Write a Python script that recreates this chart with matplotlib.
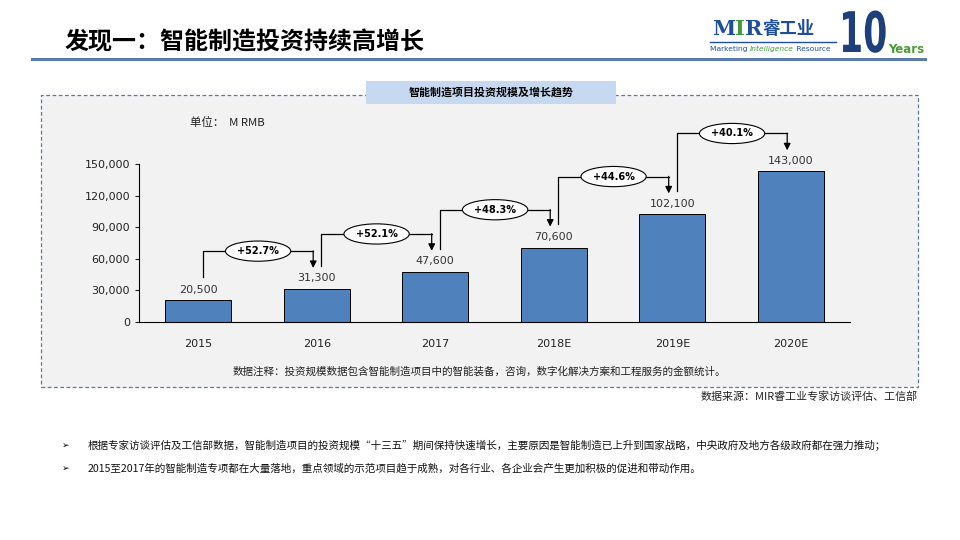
import matplotlib.pyplot as plt
from matplotlib.patches import Rectangle, PathPatch
from matplotlib.textpath import TextPath
from matplotlib.font_manager import FontProperties
from matplotlib.transforms import Affine2D, IdentityTransform
from matplotlib.ticker import FuncFormatter

plt.rcParams['font.family'] = ['Noto Sans CJK SC', 'DejaVu Sans']

years = ['2015', '2016', '2017', '2018E', '2019E', '2020E']
invest = [20500, 31300, 47600, 70600, 102100, 143000]
growth = ['+52.7%', '+52.1%', '+48.3%', '+44.6%', '+40.1%']
yticks = [0, 30000, 60000, 90000, 120000, 150000]

bullets = [
    '根据专家访谈评估及工信部数据，智能制造项目的投资规模“十三五”期间保持快速增长，主要原因是智能制造已上升到国家战略，中央政府及地方各级政府都在强力推动；',
    '2015至2017年的智能制造专项都在大量落地，重点领域的示范项目趋于成熟，对各行业、各企业会产生更加积极的促进和带动作用。',
]


def px(x, y):
    # 像素坐标 -> figure坐标
    return x / 960, 1 - y / 540


fig = plt.figure(figsize=(9.6, 5.4), dpi=100)
fig.patch.set_facecolor('white')
renderer = fig.canvas.get_renderer()


def text_row(x, y, parts, **kw):
    # 依次排列几段不同颜色的文字
    for s, opts in parts:
        t = fig.text(*px(x, y), s, va='center', **kw, **opts)
        x = t.get_window_extent(renderer).x1


# 页面标题
fig.text(*px(65, 42), '发现一：智能制造投资持续高增长', fontsize=17.3,
         fontweight='bold', va='center', ha='left')
fig.add_artist(plt.Line2D([32 / 960, 925 / 960], [1 - 59 / 540] * 2,
                          color='#5b7cab', lw=2.2))

# logo
blue = '#1f4e9c'
green = '#3f9b35'
text_row(712, 29, [('M', dict(color=blue, fontsize=15, family='DejaVu Serif')),
                   ('I', dict(color=green, fontsize=15, family='DejaVu Serif')),
                   ('R', dict(color=blue, fontsize=15, family='DejaVu Serif')),
                   ('睿工业', dict(color=blue, fontsize=12.5))], fontweight='bold')
fig.add_artist(plt.Line2D([710 / 960, 836 / 960], [1 - 42 / 540] * 2, color=blue, lw=1))
text_row(710, 49, [('Marketing ', dict(color=blue)),
                   ('Intelligence', dict(color=green, style='italic')),
                   (' Resource', dict(color=blue))], fontsize=5.4, family='DejaVu Sans')

tp = TextPath((0, 0), '10', size=56, prop=FontProperties(family='DejaVu Sans', weight='bold'))
fig.add_artist(PathPatch(tp, transform=Affine2D().scale(0.62, 1.0).translate(839, 540 - 52)
                         + IdentityTransform(), fc='#1f3f7a', ec='none'))
fig.text(*px(888, 53), 'Years', fontsize=8.5, fontweight='bold', color='#4a9a35',
         va='baseline', family='DejaVu Sans')

# 灰色面板
panel = Rectangle(px(41, 387), 877 / 960, 292 / 540, transform=fig.transFigure,
                  facecolor='#f2f2f2', edgecolor='#5a78a8', lw=0.9, ls=(0, (3, 2)), zorder=-2)
fig.add_artist(panel)
tbox = Rectangle(px(366, 104), 250 / 960, 23 / 540, transform=fig.transFigure,
                 facecolor='#c6d9f1', edgecolor='none', zorder=-1)
fig.add_artist(tbox)
fig.text(*px(491, 92), '智能制造项目投资规模及增长趋势', fontsize=7.9,
         fontweight='bold', ha='center', va='center')
fig.text(*px(190, 123), '单位：  M RMB', fontsize=8.2, va='center', color='#222222')

ax = fig.add_axes([139 / 960, 1 - 322 / 540, 711 / 960, 200.1 / 540])
ax.set_zorder(2)
ax.patch.set_alpha(0)
x = list(range(len(years)))
ax.bar(x, invest, width=0.56, color='#4f81bd', edgecolor='black', lw=0.7, zorder=2)
ax.set_xlim(-0.5, len(years) - 0.5)
ax.set_ylim(0, 190000)
ax.set_yticks(yticks)
ax.yaxis.set_major_formatter(FuncFormatter(lambda v, p: f'{int(v):,}'))
ax.set_xticks(x)
ax.set_xticklabels(years)
ax.tick_params(axis='x', length=0, pad=12, labelsize=8, colors='#222222')
ax.tick_params(axis='y', length=3, width=0.8, labelsize=8, colors='#222222')
for lab in ax.get_xticklabels() + ax.get_yticklabels():
    lab.set_family('DejaVu Sans')
for s in ['top', 'right']:
    ax.spines[s].set_visible(False)
ax.spines['left'].set_bounds(0, 150000)
ax.spines['left'].set_linewidth(0.8)
ax.spines['bottom'].set_linewidth(0.8)

for i, v in enumerate(invest):
    ax.text(i, v + 5500, f'{v:,}', ha='center', va='bottom', fontsize=8, color='#333333',
            family='DejaVu Sans')

# 增长率箭头
for i, g in enumerate(growth):
    start = invest[i] + 22000
    tip = invest[i + 1] + 20000
    level = tip + 16000
    x0 = i + 0.04
    x1 = i + 1 - 0.03
    ax.plot([x0, x0, x1], [start, level, level], color='black', lw=0.9, zorder=3)
    ax.annotate('', xy=(x1, tip), xytext=(x1, level + 200),
                arrowprops=dict(arrowstyle='-|>', color='black', lw=0.9,
                                mutation_scale=10, shrinkA=0, shrinkB=0), zorder=3)
    ax.text((x0 + x1) / 2, level, g, ha='center', va='center', fontsize=7,
            fontweight='bold', zorder=4, family='DejaVu Sans',
            bbox=dict(boxstyle='ellipse,pad=0.22', fc='white', ec='black', lw=0.8))

fig.text(*px(479, 372),
         '数据注释：投资规模数据包含智能制造项目中的智能装备，咨询，数字化解决方案和工程服务的金额统计。',
         fontsize=7.6, ha='center', va='center', color='#222222')
fig.text(*px(918, 397), '数据来源：MIR睿工业专家访谈评估、工信部',
         fontsize=7.9, ha='right', va='center', color='#222222')

for k, b in enumerate(bullets):
    bx, by = px(62, 445 + 23 * k)
    fig.text(bx, by, '➢', fontsize=6.5, va='center', family=['DejaVu Sans'])
    fig.text(88 / 960, by, b, fontsize=7.6, va='center', color='#111111')

fig.savefig('out.png', dpi=100)
